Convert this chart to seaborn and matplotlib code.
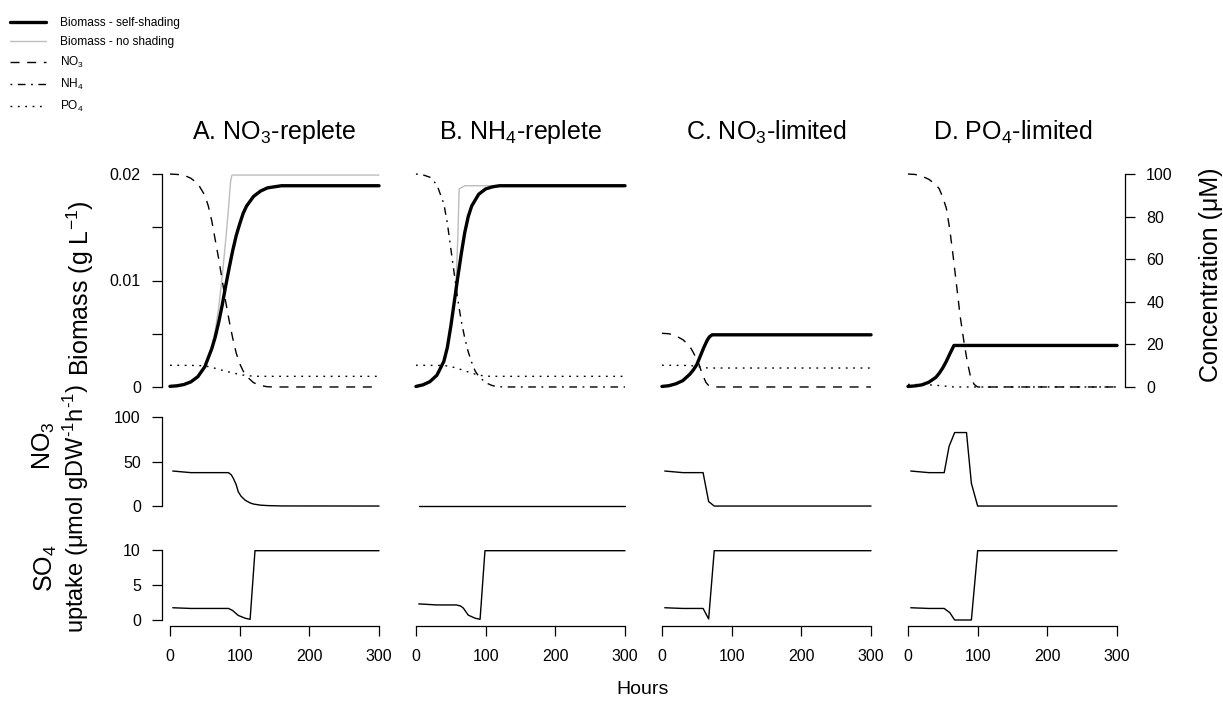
import matplotlib
matplotlib.use("Agg")
import matplotlib.pyplot as plt
import seaborn as sns

# ---------------- data ----------------
titles = ["A. NO$_3$-replete", "B. NH$_4$-replete", "C. NO$_3$-limited", "D. PO$_4$-limited"]

# Panel A: NO3-replete
tA_bio = [0, 10, 20, 30, 40, 50, 60, 65, 70, 75, 80, 85, 90, 95, 100, 105, 110, 120, 130, 140, 150, 160, 300]
A_self = [0.00006, 0.00011, 0.00023, 0.00048, 0.00097, 0.0019, 0.0036, 0.0047, 0.0061, 0.0077, 0.0095, 0.0112,
          0.0128, 0.0142, 0.0153, 0.0163, 0.0170, 0.0179, 0.0184, 0.0187, 0.0188, 0.0189, 0.0189]
tA_ns = [0, 10, 20, 30, 40, 50, 60, 65, 70, 75, 80, 84, 87, 89, 300]
A_noshade = [0.00006, 0.00011, 0.00023, 0.00048, 0.00097, 0.0019, 0.0038, 0.0053, 0.0075, 0.0104, 0.0138,
             0.0168, 0.0193, 0.0199, 0.0199]
tA_no3 = [0, 10, 20, 30, 40, 50, 55, 60, 65, 70, 75, 80, 85, 90, 95, 100, 105, 110, 120, 130, 140, 150, 300]
A_NO3 = [100, 99.8, 99.5, 98, 95.5, 90, 85, 78, 69, 60, 50, 40, 31, 23, 16, 11, 7.5, 5, 2, 0.7, 0.1, 0, 0]
tA_po4 = [0, 40, 50, 60, 70, 80, 90, 100, 110, 120, 130, 300]
A_PO4 = [10.2, 10.1, 9.9, 9.2, 8.3, 7.4, 6.6, 5.9, 5.3, 5.1, 5.0, 5.0]
tA_no3u = [4, 30, 84, 88, 91, 95, 98, 102, 108, 115, 120, 130, 140, 160, 300]
A_NO3u = [39.3, 37.5, 37.5, 35, 31, 24, 16, 11, 6.5, 3.5, 2.2, 1.0, 0.5, 0.1, 0]
tA_so4u = [4, 30, 84, 90, 98, 108, 115, 122, 300]
A_SO4u = [1.75, 1.65, 1.65, 1.35, 0.65, 0.25, 0.1, 9.9, 9.9]

# Panel B: NH4-replete
tB_bio = [0, 10, 20, 30, 40, 45, 50, 55, 60, 65, 70, 75, 80, 90, 100, 110, 120, 300]
B_self = [0.00005, 0.0002, 0.0005, 0.0011, 0.0024, 0.0037, 0.0057, 0.0080, 0.0103, 0.0125, 0.0145, 0.0160,
          0.0170, 0.0181, 0.0186, 0.0188, 0.0189, 0.0189]
tB_ns = [0, 10, 20, 30, 40, 45, 50, 55, 58, 60, 62, 70, 300]
B_noshade = [0.00005, 0.0002, 0.0005, 0.0011, 0.0024, 0.0037, 0.0057, 0.0082, 0.0105, 0.0140, 0.0186, 0.0189, 0.0189]
tB_nh4 = [0, 10, 20, 30, 40, 45, 50, 55, 60, 65, 70, 75, 80, 85, 90, 100, 110, 120, 130, 300]
B_NH4 = [100, 99.6, 98.5, 95, 86, 77, 65, 53, 41, 31, 23, 16.5, 11.5, 7.5, 5, 2, 0.6, 0.1, 0, 0]
tB_po4 = [0, 40, 50, 60, 70, 80, 90, 100, 110, 300]
B_PO4 = [10.2, 10.1, 9.6, 8.7, 7.6, 6.5, 5.6, 5.1, 5.0, 5.0]
tB_no3u = [4, 300]
B_NO3u = [0, 0]
tB_so4u = [4, 30, 58, 64, 68, 75, 85, 92, 99, 300]
B_SO4u = [2.3, 2.15, 2.15, 2.0, 1.7, 0.7, 0.25, 0.1, 9.9, 9.9]

# Panel C: NO3-limited
tC_bio = [0, 10, 20, 30, 40, 45, 50, 55, 60, 65, 68, 72, 300]
C_self = [0.00005, 0.00012, 0.0003, 0.0006, 0.0012, 0.0016, 0.0021, 0.0029, 0.0037, 0.0044, 0.0047, 0.0049, 0.0049]
C_noshade = [0.00005, 0.00012, 0.0003, 0.0006, 0.0012, 0.0016, 0.0021, 0.0029, 0.0037, 0.0044, 0.0047, 0.0049, 0.0049]
tC_no3 = [0, 10, 20, 30, 36, 40, 45, 50, 53, 57, 60, 63, 66, 70, 75, 300]
C_NO3 = [25.2, 25, 24, 22.2, 20.5, 19, 16.2, 12.8, 10.8, 6.8, 4.5, 2.2, 1.0, 0.3, 0, 0]
tC_po4 = [0, 40, 50, 55, 60, 65, 70, 300]
C_PO4 = [10.2, 10.1, 9.7, 9.4, 9.1, 8.95, 8.9, 8.9]
tC_no3u = [4, 30, 59, 67, 75, 300]
C_NO3u = [39.3, 37.5, 37.5, 5, 0, 0]
tC_so4u = [4, 30, 59, 67, 75, 300]
C_SO4u = [1.75, 1.65, 1.65, 0.15, 9.9, 9.9]

# Panel D: PO4-limited
tD_bio = [0, 10, 20, 30, 40, 45, 50, 55, 60, 63, 66, 300]
D_self = [0.00005, 0.0001, 0.0002, 0.00045, 0.0009, 0.0013, 0.0018, 0.0024, 0.0031, 0.0035, 0.0039, 0.0039]
D_noshade = [0.00005, 0.0001, 0.0002, 0.00045, 0.0009, 0.0013, 0.0018, 0.0024, 0.0031, 0.0035, 0.0039, 0.0039]
tD_no3 = [0, 10, 20, 30, 40, 45, 50, 55, 60, 65, 70, 75, 80, 85, 90, 95, 100, 300]
D_NO3 = [100, 99.8, 99, 97.5, 95, 93, 89, 84, 74, 61, 47, 33, 22, 12, 4.5, 1.2, 0, 0]
tD_po4 = [0, 20, 30, 40, 50, 60, 66, 300]
D_PO4 = [1.2, 1.1, 1.0, 0.8, 0.5, 0.2, 0, 0]
tD_no3u = [4, 30, 52, 59, 67, 84, 91, 100, 300]
D_NO3u = [39.3, 37.5, 37.5, 67, 82.5, 82.5, 25.5, 0, 0]
tD_so4u = [4, 30, 52, 60, 67, 91, 100, 300]
D_SO4u = [1.75, 1.65, 1.65, 1.05, 0, 0, 9.9, 9.9]

legend_labels = ["Biomass - self-shading", "Biomass - no shading", "NO$_3$", "NH$_4$", "PO$_4$"]

# ---------------- style ----------------
sns.set_style("ticks")
plt.rcParams["font.family"] = ["Liberation Sans", "DejaVu Sans"]
plt.rcParams["mathtext.fontset"] = "custom"
plt.rcParams["mathtext.rm"] = "Liberation Sans"
plt.rcParams["mathtext.it"] = "Liberation Sans:italic"
plt.rcParams["mathtext.bf"] = "Liberation Sans:bold"
plt.rcParams["mathtext.default"] = "regular"
plt.rcParams["axes.unicode_minus"] = True
for k in ["text.color", "axes.labelcolor", "xtick.color", "ytick.color", "axes.edgecolor"]:
    plt.rcParams[k] = "black"

W, H = 1223, 703
fig = plt.figure(figsize=(W / 100, H / 100), dpi=100)
fig.patch.set_facecolor("white")

TICK_FS = 11.5
LAB_FS = 18
LW_THICK = 2.4
LW_THIN = 1.0
GRAY = "#bdbdbd"
DASHED = (0, (6.5, 5.5))
DOTTED = (0, (1.3, 4.0))
DASHDOT = (0, (1.3, 4.0, 5.5, 4.0))

col_left = [161.6, 407.6, 653.6, 899.6]
col_w = 225.8
rows = [(165.5, 395.5), (413.4, 509.6), (547.2, 622.8)]


def make_ax(left, top, bottom):
    ax = fig.add_axes([left / W, 1 - bottom / H, col_w / W, (bottom - top) / H])
    ax.patch.set_alpha(0)
    for s in ax.spines.values():
        s.set_visible(False)
    ax.set_xlim(-12, 312)
    ax.tick_params(axis="both", which="both", direction="out", length=7, width=0.9,
                   labelsize=TICK_FS, color="black", labelcolor="black",
                   left=True, bottom=True, right=False, top=False)
    ax.set_xticks([])
    ax.set_yticks([])
    ax.set_xlabel("")
    ax.set_ylabel("")
    return ax


def line(ax, x, y, **kw):
    sns.lineplot(x=x, y=y, ax=ax, estimator=None, sort=False, legend=False, **kw)
    ax.set_xlabel("")
    ax.set_ylabel("")


bio = [(tA_bio, A_self, tA_ns, A_noshade), (tB_bio, B_self, tB_ns, B_noshade),
       (tC_bio, C_self, tC_bio, C_noshade), (tD_bio, D_self, tD_bio, D_noshade)]
conc = [
    [(tA_no3, A_NO3, DASHED), (tA_po4, A_PO4, DOTTED)],
    [(tB_nh4, B_NH4, DASHDOT), (tB_po4, B_PO4, DOTTED)],
    [(tC_no3, C_NO3, DASHED), (tC_po4, C_PO4, DOTTED)],
    [(tD_no3, D_NO3, DASHED), (tD_po4, D_PO4, DOTTED)],
]
no3u = [(tA_no3u, A_NO3u), (tB_no3u, B_NO3u), (tC_no3u, C_NO3u), (tD_no3u, D_NO3u)]
so4u = [(tA_so4u, A_SO4u), (tB_so4u, B_SO4u), (tC_so4u, C_SO4u), (tD_so4u, D_SO4u)]

handles = {}
for i in range(4):
    L = col_left[i]
    # top row: biomass + concentrations
    ax = make_ax(L, *rows[0])
    ax.set_ylim(-0.0008, 0.0208)
    tb, yb, tn, yn = bio[i]
    line(ax, tn, yn, color=GRAY, linewidth=LW_THIN, solid_capstyle="round")
    line(ax, tb, yb, color="black", linewidth=LW_THICK, solid_capstyle="round", solid_joinstyle="round")
    if i == 0:
        handles["gray"] = ax.lines[0]
        handles["black"] = ax.lines[1]
    tw = ax.twinx()
    tw.patch.set_alpha(0)
    for s in tw.spines.values():
        s.set_visible(False)
    tw.set_ylim(-4, 104)
    tw.set_yticks([])
    for (tc, yc, ls) in conc[i]:
        line(tw, tc, yc, color="black", linewidth=LW_THIN, linestyle=ls)
    if i == 0:
        handles["no3"] = tw.lines[0]
        handles["po4"] = tw.lines[1]
    if i == 1:
        handles["nh4"] = tw.lines[0]
    if i == 0:
        ax.spines["left"].set_visible(True)
        ax.spines["left"].set_bounds(0, 0.02)
        ax.spines["left"].set_linewidth(0.9)
        ax.set_yticks([0, 0.005, 0.01, 0.015, 0.02])
        ax.set_yticklabels(["0", "", "0.01", "", "0.02"])
        ax.tick_params(axis="y", pad=8)
    if i == 3:
        tw.spines["right"].set_visible(True)
        tw.spines["right"].set_bounds(0, 100)
        tw.spines["right"].set_linewidth(0.9)
        tw.set_yticks([0, 20, 40, 60, 80, 100])
        tw.tick_params(axis="y", direction="out", length=7, width=0.9, labelsize=TICK_FS, pad=8,
                       right=True, left=False, color="black", labelcolor="black")
    fig.text((L + col_w / 2) / W, 1 - 139.5 / H, titles[i], ha="center", va="baseline", fontsize=LAB_FS)

    # middle row: NO3 uptake
    axm = make_ax(L, *rows[1])
    axm.set_ylim(-4, 104)
    line(axm, no3u[i][0], no3u[i][1], color="black", linewidth=LW_THIN)
    if i == 0:
        axm.spines["left"].set_visible(True)
        axm.spines["left"].set_bounds(0, 100)
        axm.spines["left"].set_linewidth(0.9)
        axm.set_yticks([0, 50, 100])
        axm.tick_params(axis="y", pad=8)

    # bottom row: SO4 uptake
    axb = make_ax(L, *rows[2])
    axb.set_ylim(-0.4, 10.4)
    line(axb, so4u[i][0], so4u[i][1], color="black", linewidth=LW_THIN)
    axb.spines["bottom"].set_visible(True)
    axb.spines["bottom"].set_bounds(0, 300)
    axb.spines["bottom"].set_linewidth(0.9)
    axb.spines["bottom"].set_position(("outward", 2))
    axb.set_xticks([0, 100, 200, 300])
    axb.tick_params(axis="x", pad=10)
    if i == 0:
        axb.spines["left"].set_visible(True)
        axb.spines["left"].set_bounds(0, 10)
        axb.spines["left"].set_linewidth(0.9)
        axb.set_yticks([0, 5, 10])
        axb.tick_params(axis="y", pad=8)

# axis labels
fig.text(80 / W, 1 - 288 / H, "Biomass (g L$^{-1}$)", rotation=90, ha="center", va="center", fontsize=LAB_FS)
fig.text(44 / W, 1 - 446 / H, "NO$_3$", rotation=90, ha="center", va="center", fontsize=LAB_FS)
fig.text(46 / W, 1 - 568 / H, "SO$_4$", rotation=90, ha="center", va="center", fontsize=LAB_FS)
fig.text(76 / W, 1 - 509 / H, r"uptake (μmol gDW$^{\text{-}1}$h$^{\text{-}1}$)", rotation=90, ha="center",
         va="center", fontsize=17)
fig.text(1211 / W, 1 - 275 / H, "Concentration (μM)", rotation=90, ha="center", va="center", fontsize=LAB_FS)
fig.text(643 / W, 1 - 690 / H, "Hours", ha="center", va="center", fontsize=14)

# legend
leg = fig.legend([handles["black"], handles["gray"], handles["no3"], handles["nh4"], handles["po4"]],
                 legend_labels, loc="upper left", bbox_to_anchor=(10 / W, 1 - 17 / H),
                 bbox_transform=fig.transFigure, frameon=False, fontsize=8.6,
                 handlelength=3.0, handletextpad=1.2, labelspacing=0.58, borderpad=0, borderaxespad=0)

fig.savefig("out.png", dpi=100, facecolor="white")
